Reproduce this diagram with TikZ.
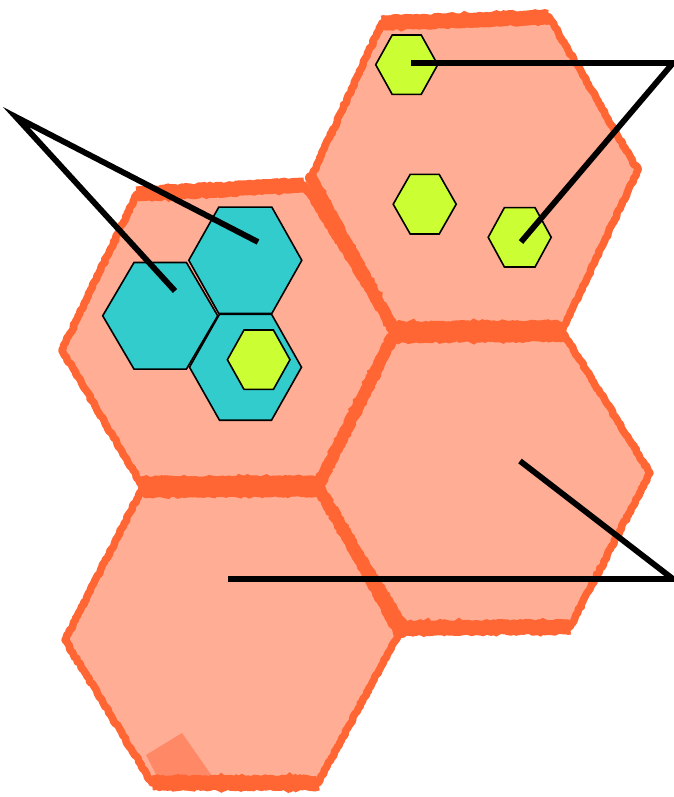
\documentclass[tikz,border=0pt]{standalone}
\usetikzlibrary{decorations.pathmorphing}
\definecolor{salmon}{HTML}{FFAD94}
\definecolor{brushorange}{HTML}{FF6633}
\definecolor{patchorange}{HTML}{FF8866}
\definecolor{cellcyan}{HTML}{33CCCC}
\definecolor{celllime}{HTML}{CCFF33}
\tikzset{
  tile/.style={fill=salmon},
  rough/.style={decorate, decoration={random steps, segment length=2.5pt, amplitude=0.9pt}},
  rim/.style={draw=brushorange, line width=7.5pt, line join=round, rough},
  rimh/.style={draw=brushorange, line width=15pt, rough},
  rimshared/.style={draw=brushorange, line width=21pt, rough},
  rimdiag/.style={draw=brushorange, line width=12pt, line cap=round, rough},
  cyancell/.style={fill=cellcyan, draw=black, line width=1.6pt, line join=miter},
  limecell/.style={fill=celllime, draw=black, line width=1.6pt, line join=miter},
  pointer/.style={draw=black, line width=5.8pt, line join=miter, miter limit=20}
}
\newcommand{\cellhex}[6]{%
  \path[#1] ({#2-#6},{#3-#5}) -- ({#2+#6},{#3-#5}) -- ({#2+#4},{#3})
    -- ({#2+#6},{#3+#5}) -- ({#2-#6},{#3+#5}) -- ({#2-#4},{#3}) -- cycle;}
\begin{document}
\begin{tikzpicture}[x=1pt, y=-1pt]
\useasboundingbox (0,0) rectangle (673,797);
% big hexagon vertices
\coordinate (a1) at (382,23);  \coordinate (b1) at (549,17);
\coordinate (c1) at (638,170); \coordinate (d1) at (562,331);
\coordinate (e1) at (395,332); \coordinate (f1) at (311,178);
\coordinate (a2) at (137,194); \coordinate (b2) at (304,185);
\coordinate (d2) at (318,486); \coordinate (e2) at (143,487);
\coordinate (f2) at (62,350);
\coordinate (c3) at (650,473); \coordinate (d3) at (570,627);
\coordinate (e3) at (406,628);
\coordinate (c4) at (398,635); \coordinate (d4) at (318,783);
\coordinate (e4) at (152,783); \coordinate (f4) at (65,640);
\coordinate (g4) at (402,632);
% fills
\path[tile] (a1) -- (b1) -- (c1) -- (d1) -- (e1) -- (f1) -- cycle;
\path[tile] (a2) -- (b2) -- (e1) -- (d2) -- (e2) -- (f2) -- cycle;
\path[tile] (e1) -- (d1) -- (c3) -- (d3) -- (e3) -- (d2) -- cycle;
\path[tile] (e2) -- (d2) -- (c4) -- (d4) -- (e4) -- (f4) -- cycle;
\path[fill=patchorange] (146,755) -- (182,733) -- (212,776) -- (160,782) -- cycle;
% outlines
\path[rim] (a1) -- (b1) -- (c1) -- (d1) -- (e1) -- (f1) -- cycle;
\path[rim] (a2) -- (b2) -- (e1) -- (d2) -- (e2) -- (f2) -- cycle;
\path[rim] (e1) -- (d1) -- (c3) -- (d3) -- (e3) -- (d2) -- cycle;
\path[rim] (e2) -- (d2) -- (c4) -- (d4) -- (e4) -- (f4) -- cycle;
\path[rimh] (a1) -- (b1);
\path[rimh] (a2) -- (b2);
\path[rimh] (e3) -- (d3);
\path[rimh] (e4) -- (d4);
\path[rimshared] (e1) -- (d1);
\path[rimshared] (e2) -- (d2);
\path[rimdiag] (f1) -- (e1);
\path[rimdiag] (e1) -- (d2);
\path[rimdiag] (d2) -- (g4);
% cyan cells
\cellhex{cyancell}{245.3}{260.3}{56.5}{53.2}{26.5}
\cellhex{cyancell}{160.2}{315.8}{57.5}{53.3}{26.2}
\cellhex{cyancell}{245.5}{367.2}{56}{53}{26}
% lime cells
\cellhex{limecell}{258.7}{359.7}{31.3}{29.7}{14.7}
\cellhex{limecell}{406.7}{64.7}{31}{29.7}{14.5}
\cellhex{limecell}{424.7}{204.2}{31.5}{29.8}{14.5}
\cellhex{limecell}{519.7}{237.3}{31.5}{29.7}{15.3}
% pointer lines
\coordinate (lapex) at (16,117);
\coordinate (lend1) at (258,242);
\coordinate (lend2) at (175,291);
\coordinate (rapex) at (673,63);
\coordinate (rend1) at (411,63);
\coordinate (rend2) at (521,242);
\coordinate (bapex) at (673,579);
\coordinate (bend1) at (228,579);
\coordinate (bend2) at (520,461);
\path[pointer] (lend1) -- (lapex) -- (lend2);
\path[pointer] (rend1) -- (rapex) -- (rend2);
\path[pointer] (bend1) -- (bapex) -- (bend2);
\end{tikzpicture}
\end{document}
